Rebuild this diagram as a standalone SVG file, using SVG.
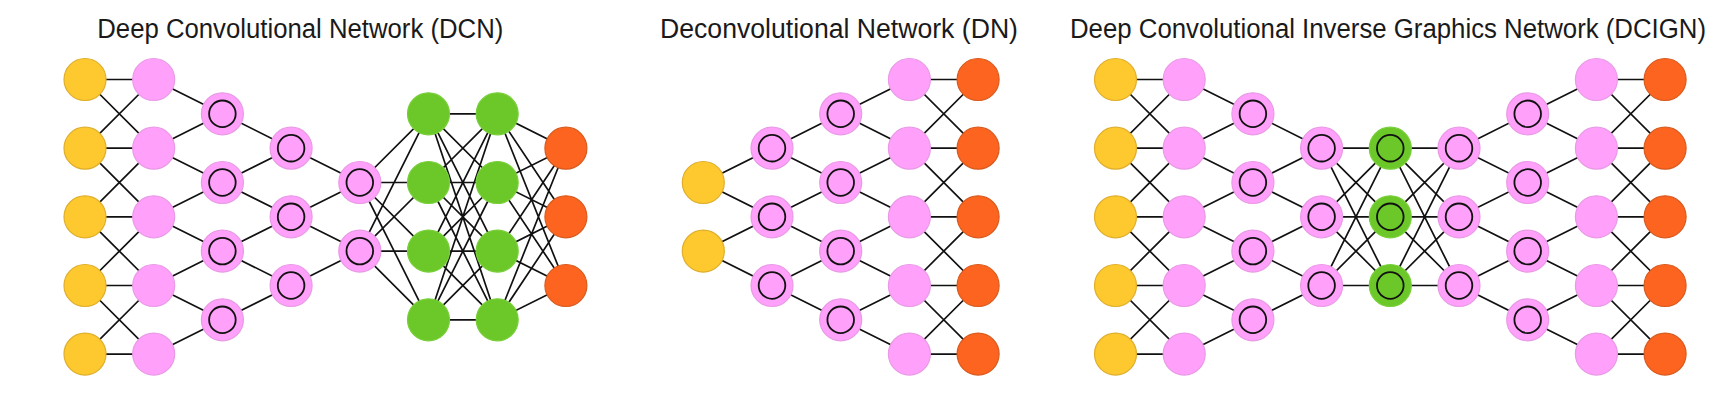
<svg xmlns="http://www.w3.org/2000/svg" width="1734" height="402" viewBox="0 0 1734 402">
<style>
.title{font-family:"Liberation Sans",Arial,sans-serif;font-size:27px;fill:#1a1a1a}
.cn{fill:none;stroke:#111;stroke-width:1.7}
.in{fill:#FDC92F;stroke:#DFAE2C;stroke-width:1.2}
.hid{fill:#FFA0FA;stroke:#E99AE6;stroke-width:1.2}
.gr{fill:#6CC829;stroke:#78CF3A;stroke-width:1.2}
.out{fill:#FC6420;stroke:#D85A1E;stroke-width:1.2}
.ring{fill:none;stroke:#111;stroke-width:1.8}
</style>
<rect width="1734" height="402" fill="#fff"/>
<text class="title" x="97.3" y="38" textLength="406" lengthAdjust="spacingAndGlyphs">Deep Convolutional Network (DCN)</text>
<text class="title" x="660" y="38" textLength="358" lengthAdjust="spacingAndGlyphs">Deconvolutional Network (DN)</text>
<text class="title" x="1070" y="38" textLength="636" lengthAdjust="spacingAndGlyphs">Deep Convolutional Inverse Graphics Network (DCIGN)</text>
<g id="connectors">
<!-- DCN -->
<path class="cn" d="M85 79.5H153.7M85 148.2H153.7M85 216.8H153.7M85 285.5H153.7M85 354.1H153.7M85 79.5L153.7 148.2M85 148.2L153.7 79.5M85 148.2L153.7 216.8M85 216.8L153.7 148.2M85 216.8L153.7 285.5M85 285.5L153.7 216.8M85 285.5L153.7 354.1M85 354.1L153.7 285.5"/>
<path class="cn" d="M153.7 79.5L222.4 113.8M153.7 148.2L222.4 113.8M153.7 148.2L222.4 182.5M153.7 216.8L222.4 182.5M153.7 216.8L222.4 251.1M153.7 285.5L222.4 251.1M153.7 285.5L222.4 319.8M153.7 354.1L222.4 319.8"/>
<path class="cn" d="M222.4 113.8L291.1 148.2M222.4 182.5L291.1 148.2M222.4 182.5L291.1 216.8M222.4 251.1L291.1 216.8M222.4 251.1L291.1 285.5M222.4 319.8L291.1 285.5"/>
<path class="cn" d="M291.1 148.2L359.8 182.5M291.1 216.8L359.8 182.5M291.1 216.8L359.8 251.1M291.1 285.5L359.8 251.1"/>
<path class="cn" d="M359.8 182.5L428.5 113.8M359.8 182.5L428.5 182.5M359.8 182.5L428.5 251.1M359.8 182.5L428.5 319.8M359.8 251.1L428.5 113.8M359.8 251.1L428.5 182.5M359.8 251.1L428.5 251.1M359.8 251.1L428.5 319.8"/>
<path class="cn" d="M428.5 113.8L497.2 113.8M428.5 113.8L497.2 182.5M428.5 113.8L497.2 251.1M428.5 113.8L497.2 319.8M428.5 182.5L497.2 113.8M428.5 182.5L497.2 182.5M428.5 182.5L497.2 251.1M428.5 182.5L497.2 319.8M428.5 251.1L497.2 113.8M428.5 251.1L497.2 182.5M428.5 251.1L497.2 251.1M428.5 251.1L497.2 319.8M428.5 319.8L497.2 113.8M428.5 319.8L497.2 182.5M428.5 319.8L497.2 251.1M428.5 319.8L497.2 319.8"/>
<path class="cn" d="M497.2 113.8L565.9 148.2M497.2 113.8L565.9 216.8M497.2 113.8L565.9 285.5M497.2 182.5L565.9 148.2M497.2 182.5L565.9 216.8M497.2 182.5L565.9 285.5M497.2 251.1L565.9 148.2M497.2 251.1L565.9 216.8M497.2 251.1L565.9 285.5M497.2 319.8L565.9 148.2M497.2 319.8L565.9 216.8M497.2 319.8L565.9 285.5"/>
<!-- DN -->
<path class="cn" d="M703.3 182.5L772 148.2M703.3 182.5L772 216.8M703.3 251.1L772 216.8M703.3 251.1L772 285.5"/>
<path class="cn" d="M772 148.2L840.7 113.8M772 148.2L840.7 182.5M772 216.8L840.7 182.5M772 216.8L840.7 251.1M772 285.5L840.7 251.1M772 285.5L840.7 319.8"/>
<path class="cn" d="M840.7 113.8L909.4 79.5M840.7 113.8L909.4 148.2M840.7 182.5L909.4 148.2M840.7 182.5L909.4 216.8M840.7 251.1L909.4 216.8M840.7 251.1L909.4 285.5M840.7 319.8L909.4 285.5M840.7 319.8L909.4 354.1"/>
<path class="cn" d="M909.4 79.5H978.1M909.4 148.2H978.1M909.4 216.8H978.1M909.4 285.5H978.1M909.4 354.1H978.1M909.4 79.5L978.1 148.2M909.4 148.2L978.1 79.5M909.4 148.2L978.1 216.8M909.4 216.8L978.1 148.2M909.4 216.8L978.1 285.5M909.4 285.5L978.1 216.8M909.4 285.5L978.1 354.1M909.4 354.1L978.1 285.5"/>
<!-- DCIGN -->
<path class="cn" d="M1115.5 79.5H1184.2M1115.5 148.2H1184.2M1115.5 216.8H1184.2M1115.5 285.5H1184.2M1115.5 354.1H1184.2M1115.5 79.5L1184.2 148.2M1115.5 148.2L1184.2 79.5M1115.5 148.2L1184.2 216.8M1115.5 216.8L1184.2 148.2M1115.5 216.8L1184.2 285.5M1115.5 285.5L1184.2 216.8M1115.5 285.5L1184.2 354.1M1115.5 354.1L1184.2 285.5"/>
<path class="cn" d="M1184.2 79.5L1252.9 113.8M1184.2 148.2L1252.9 113.8M1184.2 148.2L1252.9 182.5M1184.2 216.8L1252.9 182.5M1184.2 216.8L1252.9 251.1M1184.2 285.5L1252.9 251.1M1184.2 285.5L1252.9 319.8M1184.2 354.1L1252.9 319.8"/>
<path class="cn" d="M1252.9 113.8L1321.6 148.2M1252.9 182.5L1321.6 148.2M1252.9 182.5L1321.6 216.8M1252.9 251.1L1321.6 216.8M1252.9 251.1L1321.6 285.5M1252.9 319.8L1321.6 285.5"/>
<path class="cn" d="M1321.6 148.2L1390.3 148.2M1321.6 148.2L1390.3 216.8M1321.6 148.2L1390.3 285.5M1321.6 216.8L1390.3 148.2M1321.6 216.8L1390.3 216.8M1321.6 216.8L1390.3 285.5M1321.6 285.5L1390.3 148.2M1321.6 285.5L1390.3 216.8M1321.6 285.5L1390.3 285.5"/>
<path class="cn" d="M1390.3 148.2L1459 148.2M1390.3 148.2L1459 216.8M1390.3 148.2L1459 285.5M1390.3 216.8L1459 148.2M1390.3 216.8L1459 216.8M1390.3 216.8L1459 285.5M1390.3 285.5L1459 148.2M1390.3 285.5L1459 216.8M1390.3 285.5L1459 285.5"/>
<path class="cn" d="M1459 148.2L1527.7 113.8M1459 148.2L1527.7 182.5M1459 216.8L1527.7 182.5M1459 216.8L1527.7 251.1M1459 285.5L1527.7 251.1M1459 285.5L1527.7 319.8"/>
<path class="cn" d="M1527.7 113.8L1596.4 79.5M1527.7 113.8L1596.4 148.2M1527.7 182.5L1596.4 148.2M1527.7 182.5L1596.4 216.8M1527.7 251.1L1596.4 216.8M1527.7 251.1L1596.4 285.5M1527.7 319.8L1596.4 285.5M1527.7 319.8L1596.4 354.1"/>
<path class="cn" d="M1596.4 79.5H1665.1M1596.4 148.2H1665.1M1596.4 216.8H1665.1M1596.4 285.5H1665.1M1596.4 354.1H1665.1M1596.4 79.5L1665.1 148.2M1596.4 148.2L1665.1 79.5M1596.4 148.2L1665.1 216.8M1596.4 216.8L1665.1 148.2M1596.4 216.8L1665.1 285.5M1596.4 285.5L1665.1 216.8M1596.4 285.5L1665.1 354.1M1596.4 354.1L1665.1 285.5"/>
</g>
<!-- DCN nodes -->
<g id="dcn-in-0"><circle class="in" cx="85" cy="79.5" r="21"/></g>
<g id="dcn-in-1"><circle class="in" cx="85" cy="148.2" r="21"/></g>
<g id="dcn-in-2"><circle class="in" cx="85" cy="216.8" r="21"/></g>
<g id="dcn-in-3"><circle class="in" cx="85" cy="285.5" r="21"/></g>
<g id="dcn-in-4"><circle class="in" cx="85" cy="354.1" r="21"/></g>
<g id="dcn-h1-0"><circle class="hid" cx="153.7" cy="79.5" r="21"/></g>
<g id="dcn-h1-1"><circle class="hid" cx="153.7" cy="148.2" r="21"/></g>
<g id="dcn-h1-2"><circle class="hid" cx="153.7" cy="216.8" r="21"/></g>
<g id="dcn-h1-3"><circle class="hid" cx="153.7" cy="285.5" r="21"/></g>
<g id="dcn-h1-4"><circle class="hid" cx="153.7" cy="354.1" r="21"/></g>
<g id="dcn-c2-0"><circle class="hid" cx="222.4" cy="113.8" r="21"/><circle class="ring" cx="222.4" cy="113.8" r="13.3"/></g>
<g id="dcn-c2-1"><circle class="hid" cx="222.4" cy="182.5" r="21"/><circle class="ring" cx="222.4" cy="182.5" r="13.3"/></g>
<g id="dcn-c2-2"><circle class="hid" cx="222.4" cy="251.1" r="21"/><circle class="ring" cx="222.4" cy="251.1" r="13.3"/></g>
<g id="dcn-c2-3"><circle class="hid" cx="222.4" cy="319.8" r="21"/><circle class="ring" cx="222.4" cy="319.8" r="13.3"/></g>
<g id="dcn-c3-0"><circle class="hid" cx="291.1" cy="148.2" r="21"/><circle class="ring" cx="291.1" cy="148.2" r="13.3"/></g>
<g id="dcn-c3-1"><circle class="hid" cx="291.1" cy="216.8" r="21"/><circle class="ring" cx="291.1" cy="216.8" r="13.3"/></g>
<g id="dcn-c3-2"><circle class="hid" cx="291.1" cy="285.5" r="21"/><circle class="ring" cx="291.1" cy="285.5" r="13.3"/></g>
<g id="dcn-c4-0"><circle class="hid" cx="359.8" cy="182.5" r="21"/><circle class="ring" cx="359.8" cy="182.5" r="13.3"/></g>
<g id="dcn-c4-1"><circle class="hid" cx="359.8" cy="251.1" r="21"/><circle class="ring" cx="359.8" cy="251.1" r="13.3"/></g>
<g id="dcn-g5-0"><circle class="gr" cx="428.5" cy="113.8" r="21"/></g>
<g id="dcn-g5-1"><circle class="gr" cx="428.5" cy="182.5" r="21"/></g>
<g id="dcn-g5-2"><circle class="gr" cx="428.5" cy="251.1" r="21"/></g>
<g id="dcn-g5-3"><circle class="gr" cx="428.5" cy="319.8" r="21"/></g>
<g id="dcn-g6-0"><circle class="gr" cx="497.2" cy="113.8" r="21"/></g>
<g id="dcn-g6-1"><circle class="gr" cx="497.2" cy="182.5" r="21"/></g>
<g id="dcn-g6-2"><circle class="gr" cx="497.2" cy="251.1" r="21"/></g>
<g id="dcn-g6-3"><circle class="gr" cx="497.2" cy="319.8" r="21"/></g>
<g id="dcn-out-0"><circle class="out" cx="565.9" cy="148.2" r="21"/></g>
<g id="dcn-out-1"><circle class="out" cx="565.9" cy="216.8" r="21"/></g>
<g id="dcn-out-2"><circle class="out" cx="565.9" cy="285.5" r="21"/></g>
<!-- DN nodes -->
<g id="dn-in-0"><circle class="in" cx="703.3" cy="182.5" r="21"/></g>
<g id="dn-in-1"><circle class="in" cx="703.3" cy="251.1" r="21"/></g>
<g id="dn-c1-0"><circle class="hid" cx="772" cy="148.2" r="21"/><circle class="ring" cx="772" cy="148.2" r="13.3"/></g>
<g id="dn-c1-1"><circle class="hid" cx="772" cy="216.8" r="21"/><circle class="ring" cx="772" cy="216.8" r="13.3"/></g>
<g id="dn-c1-2"><circle class="hid" cx="772" cy="285.5" r="21"/><circle class="ring" cx="772" cy="285.5" r="13.3"/></g>
<g id="dn-c2-0"><circle class="hid" cx="840.7" cy="113.8" r="21"/><circle class="ring" cx="840.7" cy="113.8" r="13.3"/></g>
<g id="dn-c2-1"><circle class="hid" cx="840.7" cy="182.5" r="21"/><circle class="ring" cx="840.7" cy="182.5" r="13.3"/></g>
<g id="dn-c2-2"><circle class="hid" cx="840.7" cy="251.1" r="21"/><circle class="ring" cx="840.7" cy="251.1" r="13.3"/></g>
<g id="dn-c2-3"><circle class="hid" cx="840.7" cy="319.8" r="21"/><circle class="ring" cx="840.7" cy="319.8" r="13.3"/></g>
<g id="dn-h3-0"><circle class="hid" cx="909.4" cy="79.5" r="21"/></g>
<g id="dn-h3-1"><circle class="hid" cx="909.4" cy="148.2" r="21"/></g>
<g id="dn-h3-2"><circle class="hid" cx="909.4" cy="216.8" r="21"/></g>
<g id="dn-h3-3"><circle class="hid" cx="909.4" cy="285.5" r="21"/></g>
<g id="dn-h3-4"><circle class="hid" cx="909.4" cy="354.1" r="21"/></g>
<g id="dn-out-0"><circle class="out" cx="978.1" cy="79.5" r="21"/></g>
<g id="dn-out-1"><circle class="out" cx="978.1" cy="148.2" r="21"/></g>
<g id="dn-out-2"><circle class="out" cx="978.1" cy="216.8" r="21"/></g>
<g id="dn-out-3"><circle class="out" cx="978.1" cy="285.5" r="21"/></g>
<g id="dn-out-4"><circle class="out" cx="978.1" cy="354.1" r="21"/></g>
<!-- DCIGN nodes -->
<g id="dcign-in-0"><circle class="in" cx="1115.5" cy="79.5" r="21"/></g>
<g id="dcign-in-1"><circle class="in" cx="1115.5" cy="148.2" r="21"/></g>
<g id="dcign-in-2"><circle class="in" cx="1115.5" cy="216.8" r="21"/></g>
<g id="dcign-in-3"><circle class="in" cx="1115.5" cy="285.5" r="21"/></g>
<g id="dcign-in-4"><circle class="in" cx="1115.5" cy="354.1" r="21"/></g>
<g id="dcign-h1-0"><circle class="hid" cx="1184.2" cy="79.5" r="21"/></g>
<g id="dcign-h1-1"><circle class="hid" cx="1184.2" cy="148.2" r="21"/></g>
<g id="dcign-h1-2"><circle class="hid" cx="1184.2" cy="216.8" r="21"/></g>
<g id="dcign-h1-3"><circle class="hid" cx="1184.2" cy="285.5" r="21"/></g>
<g id="dcign-h1-4"><circle class="hid" cx="1184.2" cy="354.1" r="21"/></g>
<g id="dcign-c2-0"><circle class="hid" cx="1252.9" cy="113.8" r="21"/><circle class="ring" cx="1252.9" cy="113.8" r="13.3"/></g>
<g id="dcign-c2-1"><circle class="hid" cx="1252.9" cy="182.5" r="21"/><circle class="ring" cx="1252.9" cy="182.5" r="13.3"/></g>
<g id="dcign-c2-2"><circle class="hid" cx="1252.9" cy="251.1" r="21"/><circle class="ring" cx="1252.9" cy="251.1" r="13.3"/></g>
<g id="dcign-c2-3"><circle class="hid" cx="1252.9" cy="319.8" r="21"/><circle class="ring" cx="1252.9" cy="319.8" r="13.3"/></g>
<g id="dcign-c3-0"><circle class="hid" cx="1321.6" cy="148.2" r="21"/><circle class="ring" cx="1321.6" cy="148.2" r="13.3"/></g>
<g id="dcign-c3-1"><circle class="hid" cx="1321.6" cy="216.8" r="21"/><circle class="ring" cx="1321.6" cy="216.8" r="13.3"/></g>
<g id="dcign-c3-2"><circle class="hid" cx="1321.6" cy="285.5" r="21"/><circle class="ring" cx="1321.6" cy="285.5" r="13.3"/></g>
<g id="dcign-g4-0"><circle class="gr" cx="1390.3" cy="148.2" r="21"/><circle class="ring" cx="1390.3" cy="148.2" r="13.3"/></g>
<g id="dcign-g4-1"><circle class="gr" cx="1390.3" cy="216.8" r="21"/><circle class="ring" cx="1390.3" cy="216.8" r="13.3"/></g>
<g id="dcign-g4-2"><circle class="gr" cx="1390.3" cy="285.5" r="21"/><circle class="ring" cx="1390.3" cy="285.5" r="13.3"/></g>
<g id="dcign-c5-0"><circle class="hid" cx="1459" cy="148.2" r="21"/><circle class="ring" cx="1459" cy="148.2" r="13.3"/></g>
<g id="dcign-c5-1"><circle class="hid" cx="1459" cy="216.8" r="21"/><circle class="ring" cx="1459" cy="216.8" r="13.3"/></g>
<g id="dcign-c5-2"><circle class="hid" cx="1459" cy="285.5" r="21"/><circle class="ring" cx="1459" cy="285.5" r="13.3"/></g>
<g id="dcign-c6-0"><circle class="hid" cx="1527.7" cy="113.8" r="21"/><circle class="ring" cx="1527.7" cy="113.8" r="13.3"/></g>
<g id="dcign-c6-1"><circle class="hid" cx="1527.7" cy="182.5" r="21"/><circle class="ring" cx="1527.7" cy="182.5" r="13.3"/></g>
<g id="dcign-c6-2"><circle class="hid" cx="1527.7" cy="251.1" r="21"/><circle class="ring" cx="1527.7" cy="251.1" r="13.3"/></g>
<g id="dcign-c6-3"><circle class="hid" cx="1527.7" cy="319.8" r="21"/><circle class="ring" cx="1527.7" cy="319.8" r="13.3"/></g>
<g id="dcign-h7-0"><circle class="hid" cx="1596.4" cy="79.5" r="21"/></g>
<g id="dcign-h7-1"><circle class="hid" cx="1596.4" cy="148.2" r="21"/></g>
<g id="dcign-h7-2"><circle class="hid" cx="1596.4" cy="216.8" r="21"/></g>
<g id="dcign-h7-3"><circle class="hid" cx="1596.4" cy="285.5" r="21"/></g>
<g id="dcign-h7-4"><circle class="hid" cx="1596.4" cy="354.1" r="21"/></g>
<g id="dcign-out-0"><circle class="out" cx="1665.1" cy="79.5" r="21"/></g>
<g id="dcign-out-1"><circle class="out" cx="1665.1" cy="148.2" r="21"/></g>
<g id="dcign-out-2"><circle class="out" cx="1665.1" cy="216.8" r="21"/></g>
<g id="dcign-out-3"><circle class="out" cx="1665.1" cy="285.5" r="21"/></g>
<g id="dcign-out-4"><circle class="out" cx="1665.1" cy="354.1" r="21"/></g>
</svg>
